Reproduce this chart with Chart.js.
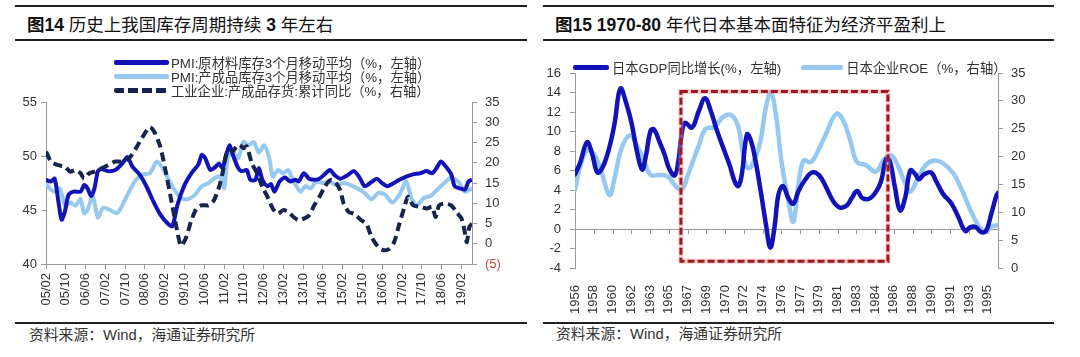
<!DOCTYPE html>
<html><head><meta charset="utf-8">
<script src="https://cdn.jsdelivr.net/npm/chart.js@4"></script>
<style>
body{margin:0;width:1080px;height:357px;position:relative;background:#fff;overflow:hidden;font-family:"Liberation Sans","Noto Sans CJK SC",sans-serif;}
.rule{position:absolute;height:1.5px;background:#222;}
.title{position:absolute;font-family:"Liberation Sans","Noto Sans CJK SC",sans-serif;font-size:17.5px;line-height:22px;color:#111;white-space:nowrap;}
.src{position:absolute;font-size:14.8px;line-height:18px;color:#333;white-space:nowrap;font-family:"Liberation Sans","Noto Sans CJK SC",sans-serif;}
canvas{position:absolute;top:0;}
.lg{position:absolute;font-size:13.3px;color:#333;white-space:nowrap;font-family:"Liberation Sans","Noto Sans CJK SC",sans-serif;}
.lgrow{display:flex;align-items:center;height:14px;}
.sw{display:inline-block;height:5px;border-radius:2px;margin-right:2px;}
</style></head>
<body>
<div class="rule" style="left:15px;top:5px;width:512px"></div>
<div class="rule" style="left:15px;top:39px;width:512px"></div>
<div class="rule" style="left:15px;top:322px;width:512px"></div>
<div class="rule" style="left:543px;top:5px;width:511px"></div>
<div class="rule" style="left:543px;top:39px;width:511px"></div>
<div class="rule" style="left:543px;top:322px;width:511px"></div>
<div class="title" style="left:27px;top:14px"><b>图14</b> 历史上我国库存周期持续 <b>3</b> 年左右</div>
<div class="title" style="left:555px;top:14px"><b>图15 1970-80</b> 年代日本基本面特征为经济平盈利上</div>
<div class="src" style="left:29px;top:326px">资料来源：Wind，海通证券研究所</div>
<div class="src" style="left:556px;top:325px">资料来源：Wind，海通证券研究所</div>
<canvas id="c1" width="540" height="357" style="left:0"></canvas>
<canvas id="c2" width="540" height="357" style="left:540px"></canvas>
<div id="lg1" class="lg" style="left:114px;top:55px"></div>
<div id="lg2" class="lg" style="left:573px;top:60px;display:flex;align-items:center;height:14px"></div>
<script>
// ---------- Chart 14 data (x = months since 2005/02) ----------
const leftTickLabels = ["05/02","05/10","06/06","07/02","07/10","08/06","09/02","09/10","10/06","11/02","11/10","12/06","13/02","13/10","14/06","15/02","15/10","16/06","17/02","17/10","18/06","19/02"];
const pmiRawMonths = [0,2,3.5,5,6.3,7.7,9.1,11.2,14,15.4,16.8,18.2,19.6,21,22.4,25.2,28,30.8,32.9,35,37.8,40.6,43.4,46.2,49,51.1,53.2,56,58.8,61.6,63,64.4,66.5,68.6,70,71.4,72.8,74.2,75.6,77.7,79.1,81.2,82.6,84.7,86.1,87.5,89.6,91,92.4,94.5,96.6,98.7,100.8,102.2,104.3,106.4,108.5,110.6,112.7,114.8,116.9,119,121.8,124.6,126.8,128.9,131.7,133.8,135.9,138,140,142.9,145.7,148.5,151.3,154,156.2,158.3,159.7,161.8,163.9,165.3,167.4,169.5,170.9,172.3];
const pmiRawValues = [47.8,47.65,47.9,45.8,44.1,44.9,46.4,46.7,46.7,47.3,47.0,46.3,47.0,48.6,48.8,48.6,48.7,49.3,49.9,49.0,48.3,47.2,45.8,44.6,43.8,43.5,45.5,47.3,48.4,49.2,50.1,49.8,48.7,49.0,49.3,48.9,50.0,51.0,50.1,48.9,48.6,48.7,47.8,47.8,48.9,47.8,47.2,47.4,46.7,47.65,48.0,47.65,47.8,47.65,48.4,47.9,47.8,47.9,48.3,48.7,48.2,47.9,48.2,48.6,48.0,47.2,47.6,47.9,47.5,47.2,47.4,47.8,48.1,48.3,48.4,48.6,48.4,49.0,49.5,49.0,48.3,47.2,47.0,46.9,47.65,47.8];
const pmiFinMonths = [0,1.4,3.5,5.6,7.7,9.8,11.9,14,15.4,16.8,18.9,21,23.1,25.9,28.7,30.8,33.6,36.4,39.2,42,44.8,46.9,49,51.8,54.6,57.4,60.2,63,65.8,68.6,70.7,72.1,73.5,75.6,77.7,79.8,81.9,84,86.1,88.2,90.3,91.7,93.8,95.9,98,99.4,100.8,102.9,105,107.1,109.2,112,114.8,117.6,120.4,123.2,126,128.8,131.7,134.5,137.3,140,142.9,145.7,147.8,149.9,152.7,155.5,158.3,161.1,163.9,166.7,169.5,172.3];
const pmiFinValues = [47.5,47.0,46.7,47.0,45.4,45.7,45.4,46.0,44.7,45.0,46.3,44.3,45.2,45.0,44.7,45.4,46.7,47.8,48.3,48.4,49.5,49.0,48.1,46.9,46.1,46.0,46.4,47.2,47.5,48.0,48.1,47.0,49.8,50.4,49.8,51.3,51.0,51.3,50.3,51.0,49.8,48.1,48.7,48.4,48.7,48.0,47.4,46.7,47.2,47.0,47.6,47.5,47.6,47.3,47.5,47.3,47.0,46.6,46.0,46.6,46.4,45.7,46.4,47.65,46.1,45.4,46.1,46.3,46.9,47.5,48.0,47.65,46.7,47.0];
const invMonths = [0,2.1,4.9,7.7,9.8,11.9,14,15.4,17.5,19.6,22.4,25.2,28,30.8,33.6,36.4,39.2,42,44.1,46.2,48.3,50.4,52.5,54.6,56.7,58.8,60.9,63,65.8,67.9,70,71.4,72.8,74.2,75.6,77,78.4,79.8,81.2,83.3,85.4,87.5,89.6,91.7,93.8,95.9,98,100.1,102.2,104.3,106.4,108.5,110.6,112.7,114.8,116.9,119,120.4,122.5,124.6,127.5,129.6,131.7,134.5,136.6,138.7,140.8,142.9,145,146.4,148.5,151.3,154.1,156.2,157.6,159,161.1,163.9,166,168.1,169.5,170.2,171.2,172.3];
const invValues = [22.7,20.3,19.4,19.0,17.8,18.2,17.4,16.1,17.4,17.8,18.6,19.4,20.3,20.3,21.1,23.6,26.5,28.8,27.3,24.0,18.2,11.6,4.9,-0.5,1.6,5.8,8.7,9.5,9.5,10.7,14.0,17.4,21.9,23.2,22.8,24.0,24.4,23.6,24.0,19.8,17.4,14.0,11.6,8.7,7.4,8.3,7.9,6.6,5.8,6.2,7.0,9.5,11.6,14.0,15.7,15.3,13.2,9.9,7.8,7.4,5.8,4.9,1.6,-0.9,-1.6,-1.3,0.4,4.9,9.1,11.6,9.5,9.1,8.7,9.1,6.6,9.5,9.9,9.5,7.8,6.2,2.5,0.4,4.1,5.0];

// ---------- Chart 15 data (x = year) ----------
const rightTickLabels = ["1956","1958","1960","1962","1963","1965","1967","1969","1970","1972","1974","1976","1977","1979","1981","1983","1984","1986","1988","1990","1991","1993","1995"];
const gdpYears = [1956.75,1957.23,1957.87,1958.35,1958.84,1959.32,1959.96,1960.44,1960.98,1961.56,1962.04,1962.52,1963.01,1963.33,1963.81,1964.13,1964.61,1965.09,1965.57,1966.05,1966.37,1966.70,1967.02,1967.66,1968.30,1968.88,1969.42,1969.90,1970.55,1971.19,1971.67,1971.99,1972.31,1972.79,1973.18,1973.59,1974.07,1974.56,1974.97,1975.36,1975.74,1976.16,1976.64,1977.12,1977.60,1978.25,1978.89,1979.53,1980.17,1980.81,1981.45,1982.10,1982.58,1983.06,1983.54,1984.18,1984.82,1985.30,1985.78,1986.11,1986.59,1987.07,1987.55,1988.03,1988.51,1988.83,1989.31,1989.96,1990.44,1991.08,1991.88,1992.52,1993.16,1993.64,1994.13,1994.61,1995.09,1995.57,1996.05,1996.21];
const gdpValues = [5.6,6.8,8.9,7.7,5.8,6.3,8.4,10.8,14.4,12.8,10.8,8.0,6.1,7.3,10.1,10.2,9.0,7.7,6.1,5.5,6.8,9.7,10.9,10.4,12.1,13.4,12.1,10.4,8.4,6.5,4.8,4.4,5.6,9.7,9.0,7.0,3.9,0.5,-1.9,0.2,3.6,4.4,3.2,2.6,3.9,5.1,5.8,5.5,4.3,2.9,2.2,2.4,3.2,3.9,3.2,3.1,3.8,4.9,7.2,7.0,4.3,1.9,3.2,6.0,5.6,5.1,5.6,5.8,4.9,3.6,2.6,1.2,-0.2,0.2,0.2,-0.3,-0.2,1.5,3.4,3.7];
const roeYears = [1956.75,1957.23,1957.87,1958.51,1959.16,1959.96,1960.44,1961.08,1961.88,1962.52,1963.17,1963.81,1964.61,1965.41,1966.05,1966.70,1967.34,1968.30,1968.94,1969.74,1970.55,1971.35,1971.99,1972.47,1972.95,1973.59,1974.07,1974.56,1975.04,1975.52,1976.00,1976.64,1977.12,1977.60,1978.08,1978.73,1979.37,1980.17,1981.13,1981.77,1982.42,1983.06,1983.86,1984.82,1985.62,1986.27,1986.91,1987.55,1988.03,1988.67,1989.47,1990.28,1991.08,1992.04,1992.84,1993.64,1994.45,1995.09,1995.57,1996.21];
const roeValues = [14.0,18.2,21.1,20.5,17.6,13.1,16.1,21.4,23.8,22.0,19.3,16.7,16.7,16.4,14.9,14.0,17.0,22.0,25.0,25.3,27.1,27.4,25.3,19.9,17.9,19.9,22.9,28.9,31.5,27.1,19.3,12.2,8.3,15.2,19.3,19.0,20.8,24.1,27.7,26.5,22.9,19.0,18.5,17.3,19.6,20.2,18.2,15.2,13.7,15.8,18.5,19.3,18.8,17.0,14.0,10.4,7.4,6.5,7.4,7.7];
const boxYears = [1966.63, 1985.94];
const boxLevels = [14.1, -3.3];

// ---------- styles ----------
const DARK = 'rgb(18,18,185)', LIGHT = 'rgb(150,200,240)', NAVY = 'rgb(22,36,78)';
const AX = '#9a9a9a', TXT = '#333';
Chart.defaults.font.family = '"Liberation Sans","Noto Sans CJK SC",sans-serif';
Chart.defaults.font.size = 13;
Chart.defaults.color = TXT;
const pts = (xs, ys) => xs.map((x, i) => ({x, y: ys[i]}));

const c1 = new Chart(document.getElementById('c1'), {
  type: 'line',
  data: { datasets: [
    {label:'PMI:原材料库存3个月移动平均（%，左轴）', data: pts(pmiRawMonths, pmiRawValues), borderColor: DARK, borderWidth: 4, yAxisID:'y', order:1},
    {label:'PMI:产成品库存3个月移动平均（%，左轴）', data: pts(pmiFinMonths, pmiFinValues), borderColor: LIGHT, borderWidth: 4, yAxisID:'y', order:2},
    {label:'工业企业:产成品存货:累计同比（%，右轴）', data: pts(invMonths, invValues), borderColor: NAVY, borderWidth: 4, borderDash:[9,5], yAxisID:'y2', order:0}
  ]},
  options: {
    responsive:false, animation:false,
    layout:{padding:{top:102,left:0,right:0,bottom:0}},
    elements:{point:{radius:0}, line:{tension:0.25, borderCapStyle:'butt', borderJoinStyle:'round'}},
    plugins:{legend:{display:false}, tooltip:{enabled:false}},
    scales:{
      x:{type:'linear', min:0, max:172.3,
        afterBuildTicks: s => { s.ticks = leftTickLabels.map((l,i)=>({value:i*8})); },
        afterFit: s => { s.height = 93; },
        ticks:{autoSkip:false, minRotation:90, maxRotation:90, padding:4, color:TXT, callback:(v,i)=>leftTickLabels[i]},
        grid:{drawOnChartArea:false, drawTicks:true, tickLength:5, color:AX},
        border:{color:AX}},
      y:{position:'left', min:40, max:55,
        afterFit: s => { s.width = 46; },
        ticks:{stepSize:5, padding:4, color:TXT},
        grid:{drawOnChartArea:false, tickLength:5, color:AX}, border:{color:AX}},
      y2:{position:'right', min:-5, max:35,
        afterFit: s => { s.width = 68; },
        ticks:{stepSize:5, padding:8, color: c => (c.tick && c.tick.value < 0) ? '#d24545' : TXT,
          callback: v => v < 0 ? '(' + (-v) + ')' : v},
        grid:{drawOnChartArea:false, tickLength:5, color:AX}, border:{color:AX}}
    }
  }
});

const jpExtras = {
  id:'jpExtras',
  beforeDatasetsDraw(chart){
    const {ctx, scales:{x, yL}} = chart;
    const y0 = yL.getPixelForValue(0);
    ctx.save(); ctx.strokeStyle = AX; ctx.lineWidth = 1;
    x.ticks.forEach(t => { const px = Math.round(x.getPixelForValue(t.value)) + 0.5;
      ctx.beginPath(); ctx.moveTo(px, y0); ctx.lineTo(px, y0 + 5); ctx.stroke(); });
    ctx.restore();
  },
  afterDatasetsDraw(chart){
    const {ctx, scales:{x, yL}} = chart;
    const x1 = x.getPixelForValue(boxYears[0]), x2 = x.getPixelForValue(boxYears[1]);
    const y1 = yL.getPixelForValue(boxLevels[0]), y2 = yL.getPixelForValue(boxLevels[1]);
    ctx.save();
    ctx.strokeStyle = 'rgba(235,150,150,0.45)'; ctx.lineWidth = 5;
    ctx.strokeRect(x1, y1, x2 - x1, y2 - y1);
    ctx.strokeStyle = 'rgb(160,24,30)'; ctx.lineWidth = 3; ctx.setLineDash([7,3]);
    ctx.strokeRect(x1, y1, x2 - x1, y2 - y1);
    ctx.restore();
  }
};

const c2 = new Chart(document.getElementById('c2'), {
  type:'line',
  data:{datasets:[
    {label:'日本GDP同比增长(%，左轴)', data: pts(gdpYears, gdpValues), borderColor: DARK, borderWidth:4.5, yAxisID:'yL', order:0},
    {label:'日本企业ROE（%，右轴）', data: pts(roeYears, roeValues), borderColor: LIGHT, borderWidth:4.5, yAxisID:'yR', order:1}
  ]},
  plugins:[jpExtras],
  options:{
    responsive:false, animation:false,
    layout:{padding:{top:73,left:0,right:0,bottom:0}},
    elements:{point:{radius:0}, line:{tension:0.4, borderCapStyle:'round'}},
    plugins:{legend:{display:false}, tooltip:{enabled:false}},
    scales:{
      x:{type:'linear', min:1956.75, max:1996.21,
        afterBuildTicks: s => { s.ticks = rightTickLabels.map((l,i)=>({value:1956.75 + i*1.75})); },
        afterFit: s => { s.height = 89; },
        ticks:{autoSkip:false, minRotation:90, maxRotation:90, padding:9, color:TXT, callback:(v,i)=>rightTickLabels[i]},
        grid:{display:false}, border:{display:false}},
      yL:{position:'left', min:-4, max:16,
        afterFit: s => { s.width = 35; },
        ticks:{stepSize:2, padding:9, color:TXT},
        grid:{drawOnChartArea:true, tickLength:5, color: c => (c.tick && c.tick.value === 0) ? AX : 'rgba(0,0,0,0)', tickColor:AX},
        border:{color:AX}},
      yR:{position:'right', min:0, max:35,
        afterFit: s => { s.width = 82; },
        ticks:{stepSize:5, padding:8, color:TXT},
        grid:{drawOnChartArea:false, tickLength:5, color:AX}, border:{color:AX}}
    }
  }
});

// ---------- HTML legends built from the datasets ----------
const lg1 = document.getElementById('lg1');
c1.data.datasets.forEach(ds => {
  const row = document.createElement('div'); row.className = 'lgrow';
  const sw = document.createElement('span'); sw.className = 'sw'; sw.style.width = '55px';
  if (ds.borderDash) { sw.style.background = `repeating-linear-gradient(90deg, ${ds.borderColor} 0 10px, transparent 10px 14px)`; }
  else sw.style.background = ds.borderColor;
  const tx = document.createElement('span'); tx.textContent = ds.label;
  row.appendChild(sw); row.appendChild(tx); lg1.appendChild(row);
});
const lg2 = document.getElementById('lg2');
const swW = [36, 42], gaps = [0, 20];
c2.data.datasets.forEach((ds, i) => {
  const sw = document.createElement('span'); sw.className = 'sw';
  sw.style.width = swW[i] + 'px'; sw.style.marginLeft = gaps[i] + 'px'; sw.style.marginRight = '3px';
  sw.style.background = ds.borderColor; sw.style.height = '5px';
  const tx = document.createElement('span'); tx.textContent = ds.label;
  lg2.appendChild(sw); lg2.appendChild(tx);
});
</script>
</body></html>
